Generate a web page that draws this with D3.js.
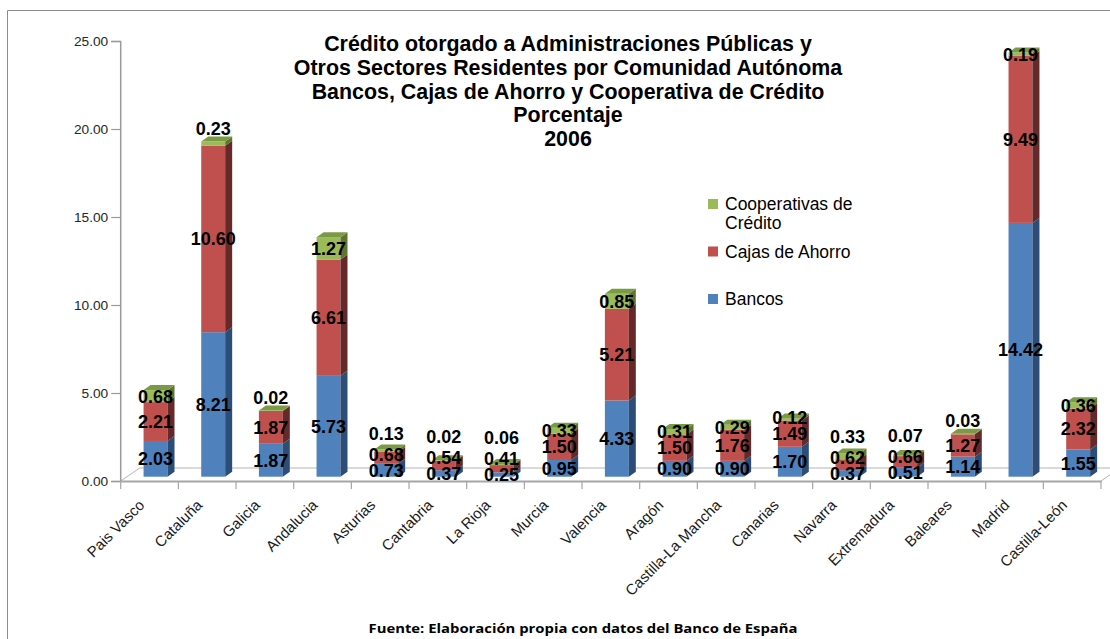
<!DOCTYPE html>
<html>
<head>
<meta charset="utf-8">
<script src="https://cdn.jsdelivr.net/npm/d3@7"></script>
<style>
  html, body { margin: 0; padding: 0; background: #fff; }
  svg { display: block; }
</style>
</head>
<body>
<svg id="chart" width="1110" height="639"></svg>
<script>
// Crédito a AAPP y OSR por Comunidad Autónoma, 2006 (%)
const categories = ["Pais Vasco", "Cataluña", "Galicia", "Andalucia", "Asturias", "Cantabria", "La Rioja",
  "Murcia", "Valencia", "Aragón", "Castilla-La Mancha", "Canarias", "Navarra", "Extremadura",
  "Baleares", "Madrid", "Castilla-León"];
const bancos = [2.03, 8.21, 1.87, 5.73, 0.73, 0.37, 0.25, 0.95, 4.33, 0.90, 0.90, 1.70, 0.37, 0.51, 1.14, 14.42, 1.55];
const cajas = [2.21, 10.60, 1.87, 6.61, 0.68, 0.54, 0.41, 1.50, 5.21, 1.50, 1.76, 1.49, 0.62, 0.66, 1.27, 9.49, 2.32];
const cooperativas = [0.68, 0.23, 0.02, 1.27, 0.13, 0.02, 0.06, 0.33, 0.85, 0.31, 0.29, 0.12, 0.33, 0.07, 0.03, 0.19, 0.36];
// whether the cooperativas label sits above the column instead of inside it
const coopLabelAbove = [false, true, true, false, true, true, true, false, false, false, false, false, true, true, true, false, false];
const yTicks = [0, 5, 10, 15, 20, 25];
const titleLines = [
  "Crédito otorgado a Administraciones Públicas y",
  "Otros Sectores Residentes por Comunidad Autónoma",
  "Bancos, Cajas de Ahorro y Cooperativa de Crédito",
  "Porcentaje",
  "2006"
];
const sourceText = "Fuente: Elaboración propia con datos del Banco de España";

const seriesNames = ["Bancos", "Cajas de Ahorro", "Cooperativas de Crédito"];
const seriesData = [bancos, cajas, cooperativas];
const palette = {
  "Bancos":                  { front: "#4f81bd", side: "#2c4d75", top: "#3f6a9c" },
  "Cajas de Ahorro":         { front: "#c0504d", side: "#632a29", top: "#9e3f3c" },
  "Cooperativas de Crédito": { front: "#9bbb59", side: "#5f7532", top: "#7b9a44" }
};

const svg = d3.select("#chart");
const FONT = "'Liberation Sans', Arial, sans-serif";

// chart frame
svg.append("path")
  .attr("d", "M7.5,639 L7.5,10.5 L1110,10.5")
  .attr("fill", "none").attr("stroke", "#8c8c8c").attr("stroke-width", 1);

// scales
const x = d3.scaleBand().domain(categories).range([120.7, 1101]).padding(0);
const y = d3.scaleLinear().domain([0, 25]).range([481, 41]);
const bw = x.bandwidth();
const barW = bw * 0.415;
const shift = { x: 6, y: -4.3 };   // columns sit in the middle of the floor depth
const depth = { x: 7, y: -5 };     // column side/top depth
const floorDepth = { x: 19, y: -13 };

// floor
const floor = svg.append("g");
const x0 = x.range()[0], x1 = x.range()[1], yb = y(0);
floor.append("path")
  .attr("d", `M${x0},${yb} L${x0 + floorDepth.x},${yb + floorDepth.y} L${x1 + floorDepth.x},${yb + floorDepth.y}`)
  .attr("fill", "none").attr("stroke", "#b4b4b4").attr("stroke-width", 1);
floor.append("path")
  .attr("d", `M${x1},${yb} L${x1 + floorDepth.x},${yb + floorDepth.y}`)
  .attr("fill", "none").attr("stroke", "#b4b4b4").attr("stroke-width", 1);

// y axis
const yAxis = d3.axisLeft(y).tickValues(yTicks).tickFormat(d3.format(".2f")).tickSize(9).tickPadding(3);
const gy = svg.append("g").attr("transform", `translate(${x0 - 0.5},0)`).call(yAxis);
gy.select(".domain").attr("stroke", "#9a9a9a").attr("stroke-width", 1.5);
gy.selectAll(".tick line").attr("stroke", "#9a9a9a").attr("stroke-width", 1.2);
gy.selectAll(".tick text").attr("font-family", FONT).attr("font-size", "13.7px").attr("fill", "#262626");

// x axis (category boundaries)
const xAxis = d3.axisBottom(x).tickSize(0).tickFormat("");
const gx = svg.append("g").attr("transform", `translate(0,${yb})`).call(xAxis);
gx.select(".domain").attr("stroke", "#a6a6a6").attr("stroke-width", 2.2);
gx.selectAll(".tick").remove();
gx.selectAll(".bound")
  .data(d3.range(categories.length + 1))
  .join("line")
  .attr("x1", i => x0 + i * bw).attr("x2", i => x0 + i * bw)
  .attr("y1", 0).attr("y2", 8)
  .attr("stroke", "#a6a6a6").attr("stroke-width", 1.2);

// category labels
svg.append("g").selectAll("text")
  .data(categories)
  .join("text")
  .attr("transform", d => `translate(${x(d) + bw / 2 - 4},${yb + 25}) rotate(-45)`)
  .attr("text-anchor", "end")
  .attr("font-family", FONT).attr("font-size", "15px").attr("fill", "#1a1a1a")
  .text(d => d);

// stacked 3D columns
const stacked = categories.map((c, i) => {
  let base = 0;
  return seriesNames.map((s, k) => {
    const v = seriesData[k][i];
    const seg = { cat: c, idx: i, series: s, value: v, y0: base, y1: base + v };
    base += v;
    return seg;
  });
});

const bars = svg.append("g").attr("transform", `translate(${shift.x},${shift.y})`);
stacked.forEach(segs => {
  const g = bars.append("g");
  const left = x(segs[0].cat) + bw / 2 - barW / 2;
  segs.forEach((s, k) => {
    const top = y(s.y1), bot = y(s.y0);
    const col = palette[s.series];
    g.append("rect")
      .attr("x", left).attr("y", top)
      .attr("width", barW).attr("height", Math.max(0, bot - top))
      .attr("fill", col.front);
    g.append("path")
      .attr("d", `M${left + barW},${top} L${left + barW + depth.x},${top + depth.y} L${left + barW + depth.x},${bot + depth.y} L${left + barW},${bot} Z`)
      .attr("fill", col.side);
    if (k === segs.length - 1) {
      g.append("path")
        .attr("d", `M${left},${top} L${left + depth.x},${top + depth.y} L${left + barW + depth.x},${top + depth.y} L${left + barW},${top} Z`)
        .attr("fill", col.top);
    }
  });
});

// value labels: centred in each segment, nudged upward when they would overlap
const minSep = 16;
const labels = [];
stacked.forEach(segs => {
  const cx = x(segs[0].cat) + bw / 2 + shift.x;
  let prevY = Infinity;
  segs.forEach((s, k) => {
    let ly = (y(s.y0) + y(s.y1)) / 2 + shift.y;
    if (k === 2 && coopLabelAbove[s.idx]) {
      ly = Math.min(y(s.y1) + shift.y - 13, prevY - 21);
    } else {
      ly = Math.min(ly, prevY - minSep);
    }
    prevY = ly;
    labels.push({ x: cx, y: ly, text: d3.format(".2f")(s.value) });
  });
});
svg.append("g").selectAll("text")
  .data(labels)
  .join("text")
  .attr("x", d => d.x).attr("y", d => d.y)
  .attr("dy", "0.36em")
  .attr("text-anchor", "middle")
  .attr("font-family", FONT).attr("font-weight", "bold").attr("font-size", "18px").attr("fill", "#000")
  .text(d => d.text);

// title
svg.append("g").selectAll("text")
  .data(titleLines)
  .join("text")
  .attr("x", 568).attr("y", (d, i) => 51 + i * 23.8)
  .attr("text-anchor", "middle")
  .attr("font-family", FONT).attr("font-weight", "bold").attr("font-size", "21.4px").attr("fill", "#000")
  .text(d => d);

// legend
const legendItems = [
  { name: "Cooperativas de Crédito", lines: ["Cooperativas de", "Crédito"], y: 199 },
  { name: "Cajas de Ahorro", lines: ["Cajas de Ahorro"], y: 246.5 },
  { name: "Bancos", lines: ["Bancos"], y: 294 }
];
const legend = svg.append("g");
legendItems.forEach(item => {
  legend.append("rect")
    .attr("x", 708).attr("y", item.y).attr("width", 10).attr("height", 10)
    .attr("fill", palette[item.name].front);
  legend.append("text")
    .attr("x", 725).attr("y", item.y + 11)
    .attr("font-family", FONT).attr("font-size", "17.5px").attr("fill", "#000")
    .selectAll("tspan")
    .data(item.lines)
    .join("tspan")
    .attr("x", 725).attr("dy", (d, i) => i === 0 ? 0 : 18.5)
    .text(d => d);
});

// source note
svg.append("text")
  .attr("x", 583).attr("y", 633)
  .attr("text-anchor", "middle")
  .attr("font-family", "'Open Sans', sans-serif").attr("font-weight", "bold").attr("font-size", "13px")
  .attr("textLength", 429).attr("lengthAdjust", "spacingAndGlyphs")
  .attr("fill", "#000")
  .text(sourceText);
</script>
</body>
</html>
